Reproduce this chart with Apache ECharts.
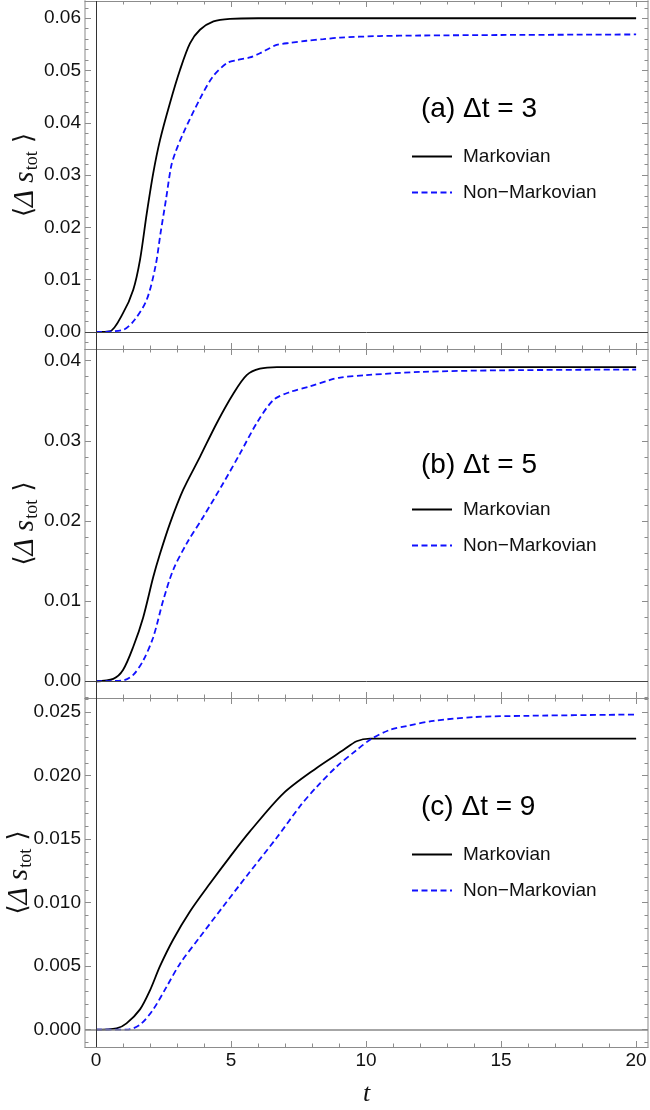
<!DOCTYPE html>
<html>
<head>
<meta charset="utf-8">
<title>Delta s_tot</title>
<script src="https://cdn.jsdelivr.net/npm/echarts@6/dist/echarts.min.js"></script>
<style>
  html, body { margin: 0; padding: 0; background: #fff; }
  #chart { width: 650px; height: 1110px; }
</style>
</head>
<body>
<div id="chart"></div>
<script>
// time axis
const xMajorTicks = [0, 5, 10, 15, 20];

// (a) Δt = 3
const aYTicks = [0, 0.01, 0.02, 0.03, 0.04, 0.05, 0.06];
const aMarkT = [0, 0.5, 1.0, 1.38, 1.63, 1.88, 2.12, 2.37, 2.74, 3.11, 3.48, 3.85, 4.35, 4.96, 6, 8, 20];
const aMarkV = [0, 0.0001, 0.0036, 0.0081, 0.0138, 0.0227, 0.0304, 0.0367, 0.0438, 0.0501, 0.0552, 0.0578, 0.0594, 0.0599, 0.0600, 0.0600, 0.0600];
const aNonT = [0, 1.0, 1.44, 1.88, 2.2, 2.39, 2.59, 2.78, 2.93, 3.23, 3.83, 4.32, 4.84, 5.21, 5.7, 6.07, 6.44, 6.69, 7.19, 7.8, 8.42, 9.04, 10.5, 12, 15, 20];
const aNonV = [0, 0.0004, 0.0024, 0.0062, 0.0125, 0.0189, 0.0253, 0.0316, 0.0342, 0.0380, 0.0444, 0.0488, 0.0514, 0.0520, 0.0525, 0.0533, 0.0543, 0.0549, 0.0553, 0.0557, 0.0560, 0.0563, 0.0566, 0.0567, 0.0568, 0.0569];

// (b) Δt = 5
const bYTicks = [0, 0.01, 0.02, 0.03, 0.04];
const bMarkT = [0, 0.64, 1.0, 1.38, 1.75, 2.12, 2.37, 2.74, 3.23, 3.85, 4.47, 5.09, 5.58, 6.07, 6.7, 8, 20];
const bMarkV = [0, 0.0003, 0.0014, 0.0043, 0.0080, 0.0130, 0.0159, 0.0197, 0.0239, 0.0280, 0.0322, 0.0359, 0.0382, 0.0390, 0.0392, 0.0392, 0.0392];
const bNonT = [0, 1.0, 1.38, 1.75, 2.12, 2.49, 2.86, 3.36, 3.97, 4.71, 5.33, 5.95, 6.57, 7.19, 7.93, 8.67, 9.04, 10, 12, 15, 20];
const bNonV = [0, 0.0001, 0.0008, 0.0026, 0.0055, 0.0101, 0.0139, 0.0172, 0.0205, 0.0247, 0.0284, 0.0322, 0.0351, 0.0361, 0.0368, 0.0376, 0.0379, 0.0382, 0.0386, 0.0388, 0.0389];

// (c) Δt = 9
const cYTicks = [0, 0.005, 0.01, 0.015, 0.02, 0.025];
const cMarkT = [0, 0.76, 1.13, 1.63, 2.0, 2.37, 2.86, 3.48, 4.22, 4.96, 5.7, 6.94, 8.17, 9.16, 9.65, 10.15, 11, 20];
const cMarkV = [0, 0.0001, 0.0005, 0.0016, 0.0031, 0.0050, 0.0071, 0.0093, 0.0115, 0.0136, 0.0156, 0.0186, 0.0206, 0.0220, 0.0227, 0.0229, 0.0229, 0.0229];
const cNonT = [0, 1.13, 1.63, 2.12, 2.62, 3.11, 3.85, 4.71, 5.58, 6.69, 7.56, 8.17, 8.91, 9.65, 10.21, 10.89, 11.51, 12.5, 14, 16, 20];
const cNonV = [0, 0, 0.0004, 0.0016, 0.0034, 0.0052, 0.0073, 0.0097, 0.0121, 0.0151, 0.0176, 0.0191, 0.0207, 0.0220, 0.0229, 0.0236, 0.0239, 0.0243, 0.0246, 0.0247, 0.0248];

const seriesNames = ['Markovian', 'Non\u2212Markovian'];
const panelTitles = ['(a) \u0394t = 3', '(b) \u0394t = 5', '(c) \u0394t = 9'];

const zip = (t, v) => t.map((x, i) => [x, v[i]]);

// layout of each panel (pixels) and value ranges
const panels = [
  { top: 1, height: 348, yMin: -0.00325, yMax: 0.0633, ticks: aYTicks, dec: 2, nameGap: 44,
    mark: zip(aMarkT, aMarkV), non: zip(aNonT, aNonV), titleTop: 95, legendTop: 147, zeroColor: '#444', zeroWidth: 1 },
  { top: 349, height: 349, yMin: -0.00209, yMax: 0.04146, ticks: bYTicks, dec: 2, nameGap: 44,
    mark: zip(bMarkT, bMarkV), non: zip(bNonT, bNonV), titleTop: 451, legendTop: 500, zeroColor: '#444', zeroWidth: 1 },
  { top: 698, height: 349, yMin: -0.00136, yMax: 0.0261, ticks: cYTicks, dec: 3, nameGap: 50,
    mark: zip(cMarkT, cMarkV), non: zip(cNonT, cNonV), titleTop: 793, legendTop: 845, zeroColor: '#888', zeroWidth: 1.5 }
];

const xMin = -0.407, xMax = 20.44;
const gridLeft = 85, gridWidth = 563;

// minor ticks: 5 subdivisions between majors
const minorTicks = (min, max, step) => {
  const out = [];
  const s = step / 5;
  for (let k = Math.ceil(min / s - 1e-9); k <= Math.floor(max / s + 1e-9); k++) {
    if (k % 5 !== 0) out.push(Math.round(k * s * 1e7) / 1e7);
  }
  return out;
};
const xMinorTicks = minorTicks(xMin, xMax, 5);

const sansFont = '"Liberation Sans", Arial, sans-serif';
const serifFont = '"Liberation Serif", "Times New Roman", serif';
const frameColor = '#8c8c8c';
const sideColor = '#c4c4c4';
const tickColor = '#8c8c8c';

const grid = [], xAxis = [], yAxis = [], series = [], title = [], legend = [];

panels.forEach((p, i) => {
  grid.push({
    left: gridLeft, width: gridWidth, top: p.top, height: p.height, show: false,
    containLabel: false, outerBoundsMode: 'none'
  });
  const step = p.ticks[1] - p.ticks[0];
  const yMinor = minorTicks(p.yMin, p.yMax, step);
  const last = i === panels.length - 1;

  // x axes: bottom major, bottom minor, top major, top minor
  [['bottom', xMajorTicks, 6], ['bottom', xMinorTicks, 3.5], ['top', xMajorTicks, 6], ['top', xMinorTicks, 3.5]]
    .forEach(([pos, vals, len], j) => {
      xAxis.push({
        type: 'value', gridIndex: i, position: pos, min: xMin, max: xMax,
        axisLine: { show: j % 2 === 0, onZero: false, lineStyle: { color: frameColor, width: 1 } },
        axisTick: { show: true, inside: true, length: len, customValues: vals, lineStyle: { color: tickColor } },
        axisLabel: {
          show: last && j === 0, customValues: xMajorTicks, margin: 4,
          fontFamily: sansFont, fontSize: 19, color: '#111'
        },
        splitLine: { show: false },
        name: last && j === 0 ? 't' : '',
        nameLocation: 'middle', nameGap: 34, nameMoveOverlap: false,
        nameTextStyle: { fontFamily: serifFont, fontStyle: 'italic', fontSize: 26, color: '#111' }
      });
    });

  // y axes: left major, left minor, right major, right minor
  [['left', p.ticks, 6], ['left', yMinor, 3.5], ['right', p.ticks, 6], ['right', yMinor, 3.5]]
    .forEach(([pos, vals, len], j) => {
      yAxis.push({
        type: 'value', gridIndex: i, position: pos, min: p.yMin, max: p.yMax,
        axisLine: { show: j % 2 === 0, onZero: false, lineStyle: { color: sideColor, width: 2 } },
        axisTick: { show: true, inside: true, length: len, customValues: vals, lineStyle: { color: tickColor } },
        axisLabel: {
          show: j === 0, customValues: p.ticks, margin: 4,
          fontFamily: sansFont, fontSize: 19, color: '#111',
          formatter: (v) => v.toFixed(p.dec)
        },
        splitLine: { show: false },
        name: j === 0 ? '{br|\u27E8}{i|\u0394 s}{sub|tot}{br| \u27E9}' : '',
        nameLocation: 'middle', nameRotate: 90, nameGap: p.nameGap, nameMoveOverlap: false,
        nameTextStyle: {
          fontFamily: serifFont, fontSize: 27, color: '#111',
          rich: {
            br: { fontFamily: '"DejaVu Serif", serif', fontSize: 26, color: '#111' },
            i: { fontFamily: serifFont, fontStyle: 'italic', fontSize: 29, color: '#111' },
            sub: { fontFamily: serifFont, fontSize: 18, color: '#111', padding: [13, 0, 0, 1] }
          }
        }
      });
    });

  series.push({
    name: seriesNames[0], type: 'line', xAxisIndex: 4 * i, yAxisIndex: 4 * i,
    data: p.mark, showSymbol: false, symbol: 'none', smooth: 0.3,
    lineStyle: { color: '#000', width: 1.8 }, itemStyle: { color: '#000' },
    z: 3,
    markLine: {
      silent: true, symbol: 'none', label: { show: false }, animation: false,
      data: [
        { yAxis: 0, lineStyle: { color: p.zeroColor, width: p.zeroWidth, type: 'solid' } },
        { xAxis: 0, lineStyle: { color: '#333', width: 1, type: 'solid' } }
      ]
    }
  });
  series.push({
    name: seriesNames[1], type: 'line', xAxisIndex: 4 * i, yAxisIndex: 4 * i,
    data: p.non, showSymbol: false, symbol: 'none', smooth: 0.3,
    lineStyle: { color: '#1010ff', width: 1.8, type: [6, 3.5] }, itemStyle: { color: '#1010ff' },
    z: 4
  });

  title.push({
    text: panelTitles[i], left: 421, top: p.titleTop, padding: 0,
    textStyle: { fontFamily: sansFont, fontSize: 28, fontWeight: 'normal', color: '#000' }
  });
  legend.push({
    data: seriesNames, orient: 'vertical', left: 411, top: p.legendTop, padding: 0,
    itemWidth: 40, itemHeight: 14, itemGap: 17, selectedMode: false,
    itemStyle: { opacity: 0 },
    textStyle: { fontFamily: sansFont, fontSize: 19, color: '#111', padding: [0, 0, 0, 6] }
  });
});

const chart = echarts.init(document.getElementById('chart'), null, { renderer: 'canvas' });
chart.setOption({
  animation: false,
  backgroundColor: '#fff',
  title, legend, grid, xAxis, yAxis, series
});
</script>
</body>
</html>
